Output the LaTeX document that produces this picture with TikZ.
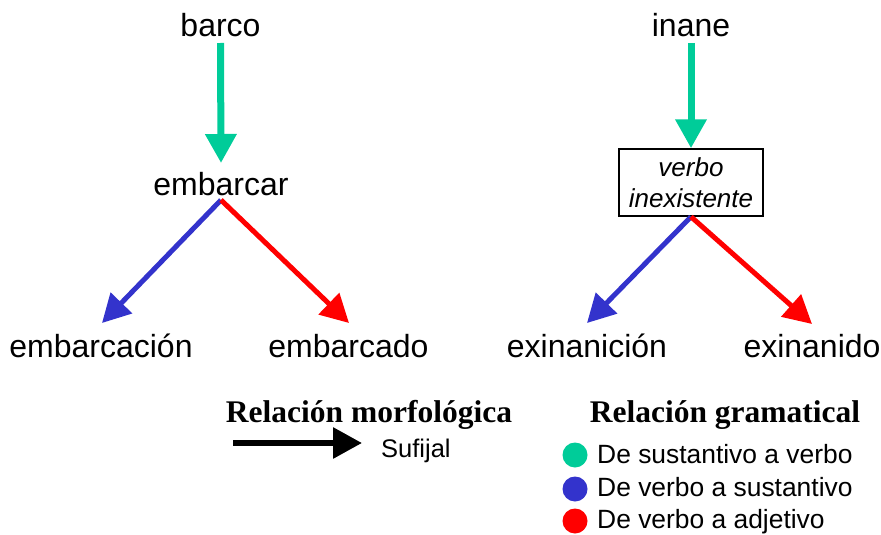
\documentclass[tikz,border=0pt]{standalone}
\usepackage{fontspec}
\setmainfont{Liberation Sans}
\newfontfamily\headfont{Liberation Serif}
\usetikzlibrary{arrows.meta}
\definecolor{vgreen}{RGB}{0,204,153}
\definecolor{vblue}{RGB}{51,51,204}
\definecolor{vred}{RGB}{255,0,0}
\begin{document}
\begin{tikzpicture}[x=1pt,y=-1pt,
  word/.style={inner sep=0pt,anchor=base,font=\fontsize{32}{38}\selectfont},
  legtext/.style={inner sep=0pt,anchor=base west,font=\fontsize{26.4}{31}\selectfont},
  head/.style={inner sep=0pt,anchor=base,font=\headfont\bfseries\fontsize{31.5}{38}\selectfont},
  greenarrow/.style={draw=vgreen,line width=7pt,-{Triangle[length=29pt,width=30pt,fill=vgreen]}},
  bluearrow/.style={draw=vblue,line width=5pt,-{Triangle[length=28pt,width=29pt,fill=vblue]}},
  redarrow/.style={draw=vred,line width=5pt,-{Triangle[length=28pt,width=29pt,fill=vred]}},
  blackarrow/.style={draw=black,line width=6pt,-{Triangle[length=29pt,width=30pt]}},
  dot/.style={circle,inner sep=0pt,minimum size=25pt},
  vbox/.style={draw,line width=1.5pt,minimum width=144pt,minimum height=67pt,inner sep=0pt,align=center,font=\itshape\fontsize{26}{31}\selectfont}
]
\useasboundingbox (0,0) rectangle (881,535);
% left tree
\node[word] (barco) at (220.5,37) {barco};
\node[word] (embarcar) at (221,195) {embarcar};
\node[word] (embarcacion) at (101,357) {embarcación};
\node[word] (embarcado) at (348.5,357) {embarcado};
\draw[greenarrow] ([yshift=-6pt]barco.base) -- ([yshift=32pt]embarcar.base);
\draw[bluearrow] ([yshift=-5pt]embarcar.base) -- ([xshift=1pt,yshift=34pt]embarcacion.base);
\draw[redarrow] ([yshift=-5pt]embarcar.base) -- ([xshift=0.5pt,yshift=34pt]embarcado.base);
% right tree
\node[word] (inane) at (691,37) {inane};
\node[vbox] (verbo) at (691,182.5) {verbo\\inexistente};
\node[word] (exinanicion) at (587,357) {exinanición};
\node[word] (exinanido) at (812,357) {exinanido};
\draw[greenarrow] ([yshift=-6pt]inane.base) -- (verbo.north);
\draw[bluearrow] (verbo.south) -- ([yshift=34pt]exinanicion.base);
\draw[redarrow] (verbo.south) -- ([yshift=33pt]exinanido.base);
% legend left
\node[head] (morf) at (369,422) {Relación morfológica};
\coordinate (ms) at (233,443);
\coordinate (me) at (362,443);
\draw[blackarrow] (ms) -- (me);
\node[inner sep=0pt,anchor=base west,font=\fontsize{25.5}{30}\selectfont] (sufijal) at (381,457) {Sufijal};
% legend right
\node[head] (gram) at (725,422) {Relación gramatical};
\node[dot,fill=vgreen] (d1) at (575,455) {};
\node[dot,fill=vblue] (d2) at (575,489) {};
\node[dot,fill=vred] (d3) at (575,521) {};
\node[legtext] (t1) at (597,463) {De sustantivo a verbo};
\node[legtext] (t2) at (597,496) {De verbo a sustantivo};
\node[legtext] (t3) at (597,528) {De verbo a adjetivo};
\end{tikzpicture}
\end{document}
